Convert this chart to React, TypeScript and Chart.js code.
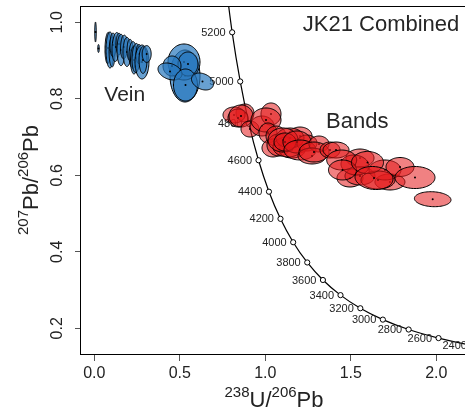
import { useEffect, useRef } from "react";
import { Chart, registerables } from "chart.js";

Chart.register(...registerables);

// Concordia curve (Ma) and its 238U/206Pb, 207Pb/206Pb coordinates
const concAges = [5400, 5200, 5000, 4800, 4600, 4400, 4200, 4000, 3800, 3600, 3400, 3200, 3000, 2800, 2600, 2400, 2200];
const concX = [0.7628, 0.8062, 0.8533, 0.9045, 0.9604, 1.0215, 1.0888, 1.163, 1.2453, 1.337, 1.4398, 1.5557, 1.6875, 1.8382, 2.0131, 2.2169, 2.4586];
const concY = [1.1231, 0.9738, 0.8453, 0.7347, 0.6393, 0.5571, 0.4862, 0.425, 0.3721, 0.3263, 0.2867, 0.2524, 0.2227, 0.1968, 0.1744, 0.1548, 0.1378];
const labelledAges = [5200, 5000, 4800, 4600, 4400, 4200, 4000, 3800, 3600, 3400, 3200, 3000, 2800, 2600, 2400];

// Vein analyses: centre, half-widths of the error ellipse, correlation
const veinX = [0.007, 0.0246, 0.0801, 0.0918, 0.1041, 0.1094, 0.1269, 0.1444, 0.1561, 0.1737, 0.1912, 0.2088, 0.2263, 0.2322, 0.2439, 0.2614, 0.2789, 0.2848, 0.3064, 0.5304, 0.5246, 0.548, 0.4544, 0.4427, 0.5333, 0.6327];
const veinY = [0.9746, 0.9315, 0.9328, 0.9276, 0.9224, 0.9407, 0.9354, 0.9433, 0.9276, 0.9354, 0.9224, 0.9276, 0.9145, 0.9014, 0.9067, 0.9171, 0.8962, 0.9014, 0.9171, 0.8596, 0.8962, 0.891, 0.8858, 0.8714, 0.8361, 0.8452];
const veinSx = [0.0047, 0.0047, 0.0175, 0.0234, 0.0175, 0.0175, 0.0234, 0.0175, 0.0234, 0.0205, 0.0234, 0.0175, 0.0234, 0.0205, 0.0234, 0.0175, 0.0409, 0.0234, 0.0263, 0.0877, 0.0936, 0.0585, 0.0526, 0.0702, 0.0702, 0.0643];
const veinSy = [0.0261, 0.0105, 0.041, 0.047, 0.0392, 0.031, 0.038, 0.028, 0.041, 0.031, 0.038, 0.028, 0.035, 0.0366, 0.038, 0.025, 0.0444, 0.035, 0.022, 0.068, 0.0471, 0.0314, 0.0261, 0.0222, 0.0418, 0.0222];
const veinRho = [0, 0, 0.1, 0, 0, 0, 0.2, 0, 0, 0.1, 0, 0, 0, 0, 0.1, 0, 0, 0, 0, 0, 0, 0, 0, -0.3, 0, -0.3];

// Band analyses
const bandX = [0.8813, 0.817, 0.8404, 0.8579, 0.9105, 0.9807, 1.0333, 1.0041, 1.0158, 1.045, 1.0626, 1.0801, 1.1561, 1.1327, 1.2029, 1.1444, 1.1035, 1.1152, 1.2439, 1.1854, 1.2029, 1.314, 1.2731, 1.2848, 1.3784, 1.4135, 1.5538, 1.4953, 1.5538, 1.5246, 1.4468, 1.4515, 1.729, 1.7, 1.7877, 1.6591, 1.5977, 1.6357, 1.8754, 1.979];
const bandY = [0.7629, 0.7576, 0.7498, 0.755, 0.721, 0.7289, 0.7603, 0.7446, 0.7106, 0.6714, 0.7027, 0.6792, 0.6661, 0.674, 0.7027, 0.6975, 0.6923, 0.6871, 0.6844, 0.6871, 0.6661, 0.6818, 0.6505, 0.6609, 0.6661, 0.6661, 0.6452, 0.5929, 0.5982, 0.6269, 0.64, 0.6139, 0.5825, 0.6139, 0.6217, 0.5877, 0.6335, 0.5929, 0.5942, 0.5375];
const bandSx = [0.0526, 0.0643, 0.0585, 0.0702, 0.0526, 0.0702, 0.0585, 0.0877, 0.0526, 0.0643, 0.0585, 0.0702, 0.076, 0.0877, 0.0702, 0.0819, 0.0877, 0.0643, 0.0585, 0.0819, 0.0936, 0.0585, 0.0819, 0.0877, 0.0585, 0.076, 0.0819, 0.076, 0.0877, 0.0819, 0.0877, 0.0819, 0.0877, 0.0936, 0.0819, 0.0994, 0.0936, 0.1111, 0.117, 0.107];
const bandSy = [0.0235, 0.0209, 0.0235, 0.0288, 0.0209, 0.0261, 0.0288, 0.0314, 0.0261, 0.0235, 0.0261, 0.0288, 0.0209, 0.0261, 0.0235, 0.0261, 0.0314, 0.0235, 0.0209, 0.0288, 0.0261, 0.0209, 0.0209, 0.0261, 0.0209, 0.0209, 0.0235, 0.0235, 0.0235, 0.0261, 0.0261, 0.0261, 0.0209, 0.0261, 0.0248, 0.0235, 0.0288, 0.0301, 0.0288, 0.0196];
const bandRho = [0, 0, 0, 0, 0, 0, 0, 0, 0, 0, 0, 0, 0, 0, 0, 0, 0, 0, 0, 0, 0, 0, 0, 0, 0, 0, 0, 0, 0, -0.1, 0, 0, 0, 0, 0, 0, 0, -0.1, 0, -0.1];

const FONT = '"Liberation Sans", Arial, Helvetica, sans-serif';
const TXT = "#222";
const VEIN_FILL = "rgba(40,120,190,0.7)";
const BAND_FILL = "rgba(228,26,28,0.55)";

function drawEllipses(ctx: CanvasRenderingContext2D, xs: any, ys: any, X: number[], Y: number[], SX: number[], SY: number[], R: number[], fill: string) {
  for (let k = 0; k < X.length; k++) {
    const s = Math.sqrt(1 - R[k] * R[k]);
    const n = 80;
    ctx.beginPath();
    for (let i = 0; i <= n; i++) {
      const t = (i / n) * Math.PI * 2;
      const vx = X[k] + SX[k] * Math.cos(t);
      const vy = Y[k] + SY[k] * (R[k] * Math.cos(t) + s * Math.sin(t));
      const px = xs.getPixelForValue(vx);
      const py = ys.getPixelForValue(vy);
      if (i === 0) ctx.moveTo(px, py);
      else ctx.lineTo(px, py);
    }
    ctx.closePath();
    ctx.fillStyle = fill;
    ctx.fill();
    ctx.strokeStyle = "#000";
    ctx.lineWidth = 1;
    ctx.stroke();
    ctx.beginPath();
    ctx.arc(xs.getPixelForValue(X[k]), ys.getPixelForValue(Y[k]), 1, 0, Math.PI * 2);
    ctx.fillStyle = "#000";
    ctx.fill();
  }
}

function drawSup(ctx: CanvasRenderingContext2D, parts: [string, boolean][], cx: number, base: number) {
  const MAIN = 22, SUP = 15, RAISE = 10;
  let total = 0;
  for (const [t, sup] of parts) {
    ctx.font = `${sup ? SUP : MAIN}px ${FONT}`;
    total += ctx.measureText(t).width;
  }
  let x = cx - total / 2;
  ctx.textAlign = "left";
  ctx.textBaseline = "alphabetic";
  for (const [t, sup] of parts) {
    ctx.font = `${sup ? SUP : MAIN}px ${FONT}`;
    ctx.fillText(t, x, sup ? base - RAISE : base);
    x += ctx.measureText(t).width;
  }
}

const overlay = {
  id: "overlay",
  afterDatasetsDraw(chart: any) {
    const { ctx, chartArea: a } = chart;
    const xs = chart.scales.x;
    const ys = chart.scales.y;
    ctx.save();
    ctx.beginPath();
    ctx.rect(a.left, a.top, a.right - a.left, a.bottom - a.top);
    ctx.clip();
    // age labels
    ctx.font = `11px ${FONT}`;
    ctx.fillStyle = TXT;
    ctx.textAlign = "right";
    ctx.textBaseline = "middle";
    for (const age of labelledAges) {
      const i = concAges.indexOf(age);
      ctx.fillText(String(age), xs.getPixelForValue(concX[i]) - 6.5, ys.getPixelForValue(concY[i]) + 0.5);
    }
    drawEllipses(ctx, xs, ys, veinX, veinY, veinSx, veinSy, veinRho, VEIN_FILL);
    drawEllipses(ctx, xs, ys, bandX, bandY, bandSx, bandSy, bandRho, BAND_FILL);
    // annotations
    ctx.fillStyle = "#262626";
    ctx.textBaseline = "alphabetic";
    ctx.font = `21px ${FONT}`;
    ctx.textAlign = "left";
    ctx.fillText("Vein", xs.getPixelForValue(0.0585), ys.getPixelForValue(0.7942));
    ctx.font = `22px ${FONT}`;
    ctx.fillText("Bands", xs.getPixelForValue(1.355), ys.getPixelForValue(0.7244));
    ctx.textAlign = "right";
    ctx.fillText("JK21 Combined", xs.getPixelForValue(2.1345), ys.getPixelForValue(0.978));
    ctx.restore();
  },
  afterDraw(chart: any) {
    const { ctx, chartArea: a } = chart;
    ctx.save();
    ctx.strokeStyle = "#000";
    ctx.lineWidth = 1;
    ctx.strokeRect(Math.round(a.left) + 0.5, Math.round(a.top) + 0.5, Math.round(a.right - a.left), Math.round(a.bottom - a.top));
    ctx.fillStyle = TXT;
    drawSup(ctx, [["238", true], ["U/", false], ["206", true], ["Pb", false]], (a.left + a.right) / 2, 406.5);
    ctx.translate(37.5, (a.top + a.bottom) / 2);
    ctx.rotate(-Math.PI / 2);
    drawSup(ctx, [["207", true], ["Pb/", false], ["206", true], ["Pb", false]], 0, 0);
    ctx.restore();
  },
};

export default function App() {
  const ref = useRef<HTMLCanvasElement>(null);
  useEffect(() => {
    document.body.style.overflow = "hidden";
    const canvas = ref.current!;
    const curve = concAges.map((_, i) => ({ x: concX[i], y: concY[i] }));
    const markers = labelledAges.map((age) => {
      const i = concAges.indexOf(age);
      return { x: concX[i], y: concY[i] };
    });
    const tickFont = { family: FONT, size: 16 };
    const chart = new Chart(canvas, {
      type: "scatter",
      data: {
        datasets: [
          {
            data: markers,
            pointRadius: 2.6,
            pointBackgroundColor: "#fff",
            pointBorderColor: "#000",
            pointBorderWidth: 1,
            showLine: false,
          },
          {
            data: curve,
            showLine: true,
            pointRadius: 0,
            borderColor: "#000",
            borderWidth: 1.2,
            cubicInterpolationMode: "monotone",
          },
        ],
      } as any,
      options: {
        responsive: false,
        animation: false,
        devicePixelRatio: 1,
        layout: { padding: { left: 0, top: 6, right: 32, bottom: 0 } },
        plugins: { legend: { display: false }, tooltip: { enabled: false } },
        events: [],
        scales: {
          x: {
            type: "linear",
            min: -0.0836,
            max: 2.1854,
            ticks: {
              stepSize: 0.5,
              includeBounds: false,
              autoSkip: false,
              maxRotation: 0,
              minRotation: 0,
              padding: 3,
              color: TXT,
              font: tickFont,
              callback: (v: any) => Number(v).toFixed(1),
            },
            grid: { display: true, drawOnChartArea: false, drawTicks: true, tickLength: 7, color: "#555", lineWidth: 1 },
            border: { display: false },
            afterFit: (s: any) => {
              s.height = 56;
              s.paddingLeft = 0;
              s.paddingRight = 0;
            },
          },
          y: {
            type: "linear",
            min: 0.1328,
            max: 1.0426,
            ticks: {
              stepSize: 0.2,
              includeBounds: false,
              autoSkip: false,
              minRotation: 90,
              maxRotation: 90,
              crossAlign: "center",
              padding: 6,
              color: TXT,
              font: tickFont,
              callback: (v: any) => Number(v).toFixed(1),
            },
            grid: { display: true, drawOnChartArea: false, drawTicks: true, tickLength: 5, color: "#555", lineWidth: 1 },
            border: { display: false },
            afterFit: (s: any) => {
              s.width = 80;
              s.paddingTop = 0;
              s.paddingBottom = 0;
            },
          },
        },
      } as any,
      plugins: [overlay],
    });
    return () => chart.destroy();
  }, []);
  return (
    <div style={{ position: "fixed", left: 0, top: 0, width: 465, height: 410, overflow: "hidden", background: "#fff" }}>
      <canvas ref={ref} width={500} height={410} style={{ display: "block", width: 500, height: 410 }} />
    </div>
  );
}
